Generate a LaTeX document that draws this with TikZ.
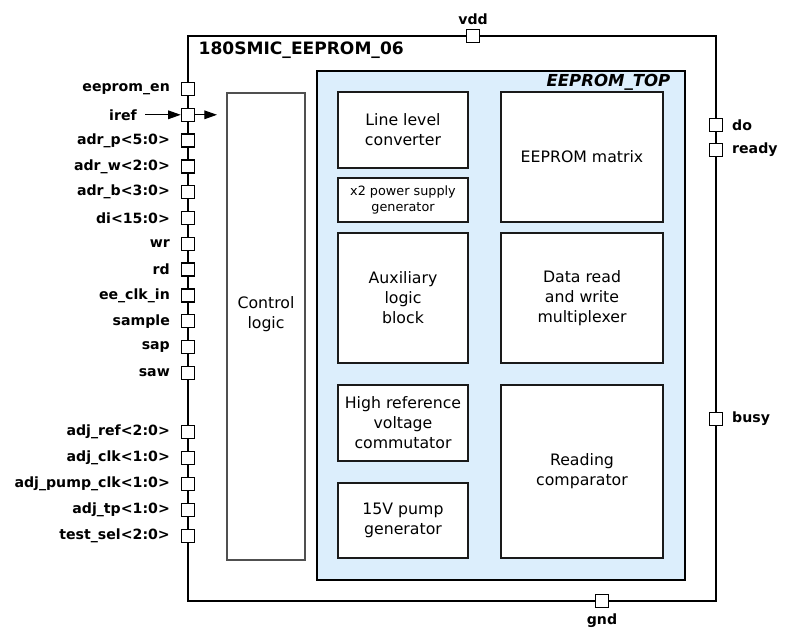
\documentclass[tikz,border=0pt]{standalone}
\usepackage{fontspec}
\setmainfont{DejaVu Sans}
\usepackage{tikz}
\usetikzlibrary{arrows.meta,positioning}
\definecolor{topfillc}{HTML}{DCEEFC}
\definecolor{blockc}{HTML}{1A1A1A}
\definecolor{ctrlc}{HTML}{505050}
\tikzset{
  chipframe/.style={rectangle, draw=black, line width=1.9pt, inner sep=0pt},
  topframe/.style={rectangle, draw=black, line width=2pt, fill=topfillc, inner sep=0pt},
  blocknode/.style={rectangle, draw=blockc, line width=1.1pt, fill=white, inner sep=0pt,
    align=center, font=\fontsize{11.8}{15}\selectfont},
  smallblock/.style={blocknode, font=\fontsize{9.6}{12}\selectfont},
  ctrlnode/.style={rectangle, draw=ctrlc, line width=0.9pt, fill=white, inner sep=0pt},
  blocktext/.style={align=center, font=\fontsize{11.8}{15}\selectfont},
  titletext/.style={font=\fontsize{12.8}{15}\selectfont\bfseries},
  toptext/.style={font=\fontsize{12.4}{15}\selectfont\bfseries\itshape},
  pinnode/.style={rectangle, draw=black, line width=1.1pt, fill=white,
    minimum size=9.75pt, inner sep=0pt},
  pinlabel/.style={font=\fontsize{10.6}{12}\selectfont\bfseries, inner sep=2pt},
  pinleft/.style={pinnode, label={[pinlabel, xshift=-6pt]left:#1}},
  pinright/.style={pinnode, label={[pinlabel, xshift=4.5pt]right:#1}},
  signaledge/.style={-{Triangle[length=9.5pt, width=6.5pt]}, draw=black, line width=0.75pt},
}

\begin{document}
\begin{tikzpicture}[x=0.75pt, y=-0.75pt]
  \useasboundingbox (0,0) rectangle (787,630);
  % chip frame and top block
  \node[chipframe, minimum width=396pt, minimum height=423.75pt] (chip) at (452,318.5) {};
  \node[titletext, anchor=west] (chipname) at (194,50) {180SMIC\_EEPROM\_06};
  \node[topframe, minimum width=276pt, minimum height=381.75pt] (eetop) at (501,325.5) {};
  \node[toptext, anchor=east] (eetopname) at (675,82) {EEPROM\_TOP};
  \node[ctrlnode, minimum width=58.5pt, minimum height=350.25pt] (ctrl) at (266,326.5) {};
  \node[blocktext] (ctrltext) at (266,314) {Control\\logic};
  % inner blocks
  \node[blocknode, minimum width=97.5pt, minimum height=57pt] (linelevel) at (403,130) {Line level\\converter};
  \node[smallblock, minimum width=97.5pt, minimum height=33pt] (powersupply) at (403,200) {x2 power supply\\generator};
  \node[blocknode, minimum width=97.5pt, minimum height=97.5pt] (auxlogic) at (403,298) {Auxiliary\\logic\\block};
  \node[blocknode, minimum width=97.5pt, minimum height=57pt] (highref) at (403,423) {High reference\\voltage\\commutator};
  \node[blocknode, minimum width=97.5pt, minimum height=56.25pt] (pumpgen) at (403,520.5) {15V pump\\generator};
  \node[blocknode, minimum width=121.5pt, minimum height=97.5pt] (matrix) at (582,157) {EEPROM matrix};
  \node[blocknode, minimum width=121.5pt, minimum height=97.5pt] (datamux) at (582,298) {Data read\\and write\\multiplexer};
  \node[blocknode, minimum width=121.5pt, minimum height=129.75pt] (readcomp) at (582,471.5) {Reading\\comparator};
  % left pins
  \node[pinleft=eeprom\_en] (eepromen) at (188,89) {};
  \node[pinnode] (irefpin) at (188,114.8) {};
  \node[pinleft=adr\_p<5:0>] (adrp) at (188,140.6) {};
  \node[pinleft=adr\_w<2:0>] (adrw) at (188,166.4) {};
  \node[pinleft=adr\_b<3:0>] (adrb) at (188,192.2) {};
  \node[pinleft=di<15:0>] (di) at (188,218) {};
  \node[pinleft=wr] (wr) at (188,243.8) {};
  \node[pinleft=rd] (rd) at (188,269.6) {};
  \node[pinleft=ee\_clk\_in] (eeclkin) at (188,295.4) {};
  \node[pinleft=sample] (sample) at (188,321.2) {};
  \node[pinleft=sap] (sap) at (188,347) {};
  \node[pinleft=saw] (saw) at (188,372.8) {};
  \node[pinleft=adj\_ref<2:0>] (adjref) at (188,432) {};
  \node[pinleft=adj\_clk<1:0>] (adjclk) at (188,458) {};
  \node[pinleft=adj\_pump\_clk<1:0>] (adjpumpclk) at (188,484) {};
  \node[pinleft=adj\_tp<1:0>] (adjtp) at (188,510) {};
  \node[pinleft=test\_sel<2:0>] (testsel) at (188,536) {};
  % right, top and bottom pins
  \node[pinright=do] (do) at (716,125) {};
  \node[pinright=ready] (ready) at (716,150) {};
  \node[pinright=busy] (busy) at (716,419) {};
  \node[pinnode, label={[pinlabel, yshift=1pt]above:vdd}] (vdd) at (473,36) {};
  \node[pinnode, label={[pinlabel, yshift=-2pt]below:gnd}] (gnd) at (602,601) {};
  % iref current
  \coordinate (irefin) at (145,114.8);
  \coordinate (irefout) at (217,114.8);
  \node[pinlabel, left=4pt of irefin] (ireflabel) {iref};
  \draw[signaledge] (irefin) -- (irefpin);
  \draw[signaledge] (irefpin) -- (irefout);
\end{tikzpicture}
\end{document}
